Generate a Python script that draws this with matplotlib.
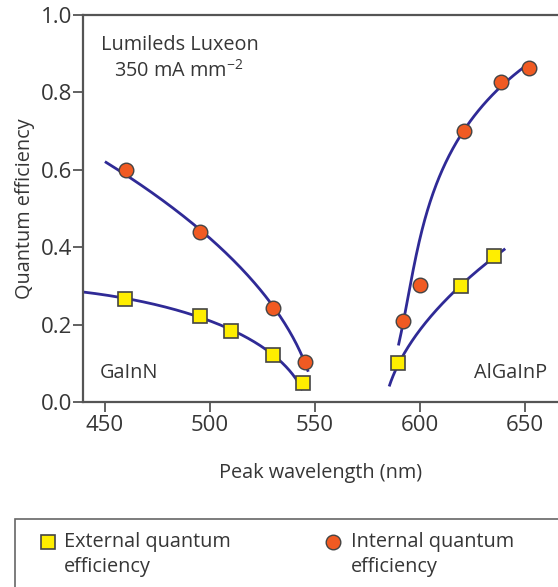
import numpy as np
import matplotlib
matplotlib.use("Agg")
import matplotlib.pyplot as plt
from matplotlib.lines import Line2D
from matplotlib.patches import Rectangle

plt.rcParams['font.family'] = ['Open Sans', 'DejaVu Sans']

# Measured efficiencies (peak wavelength in nm, efficiency as fraction)
gainn_iqe_wl = [460, 495, 530, 545]
gainn_iqe = [0.60, 0.44, 0.243, 0.103]
gainn_eqe_wl = [459.5, 495, 510, 530, 544.5]
gainn_eqe = [0.266, 0.221, 0.183, 0.121, 0.049]

algainp_iqe_wl = [592, 600, 621, 638.5, 652]
algainp_iqe = [0.209, 0.302, 0.70, 0.827, 0.863]
algainp_eqe_wl = [589.5, 619.5, 635]
algainp_eqe = [0.10, 0.30, 0.377]

# Trend-line traces (wavelength, efficiency) used for the guide curves
gainn_iqe_trend_wl = [449.5, 460, 490.5, 495, 530, 546.7]
gainn_iqe_trend = [0.620, 0.590, 0.470, 0.440, 0.250, 0.078]
gainn_eqe_trend_wl = [439.5, 459.5, 495, 510, 530, 544]
gainn_eqe_trend = [0.285, 0.266, 0.222, 0.185, 0.122, 0.031]
algainp_iqe_trend_wl = [590.1, 592, 594.3, 603.2, 621, 638.6, 651.4]
algainp_iqe_trend = [0.145, 0.210, 0.300, 0.470, 0.700, 0.827, 0.866]
algainp_eqe_trend_wl = [585.4, 589.7, 600, 619.5, 635, 641]
algainp_eqe_trend = [0.040, 0.100, 0.186, 0.300, 0.377, 0.395]

x_ticks = [450, 500, 550, 600, 650]
y_ticks = [0.0, 0.2, 0.4, 0.6, 0.8, 1.0]

legend_labels = ['External quantum\nefficiency', 'Internal quantum\nefficiency']

LINE = '#2f2a96'
TEXT = '#363636'
AXIS = '#555555'
SQ_FACE = '#ffee00'
CI_FACE = '#f05a22'
EDGE = '#444444'
FS = 14.3


def smooth_trend(xs, ys, deg=3, n=200):
    """Parametric polynomial fit along the chord length of a trace."""
    xs = np.asarray(xs, float)
    ys = np.asarray(ys, float)
    sx, sy = xs / 210.0, ys / 0.66
    t = np.concatenate([[0], np.cumsum(np.hypot(np.diff(sx), np.diff(sy)))])
    t /= t[-1]
    px = np.polyfit(t, xs, deg)
    py = np.polyfit(t, ys, deg)
    tt = np.linspace(0, 1, n)
    return np.polyval(px, tt), np.polyval(py, tt)


fig = plt.figure(figsize=(5.58, 5.87), dpi=100)
ax = fig.add_axes([0.1487, 0.3152, 0.8513, 0.6593])

for xs, ys in [(gainn_iqe_trend_wl, gainn_iqe_trend),
               (gainn_eqe_trend_wl, gainn_eqe_trend),
               (algainp_iqe_trend_wl, algainp_iqe_trend),
               (algainp_eqe_trend_wl, algainp_eqe_trend)]:
    cx, cy = smooth_trend(xs, ys)
    ax.plot(cx, cy, color=LINE, lw=2.0, solid_capstyle='butt', zorder=2)

sq_kw = dict(marker='s', ms=10, mfc=SQ_FACE, mec=EDGE, mew=1.2, ls='none', zorder=3)
ci_kw = dict(marker='o', ms=10.5, mfc=CI_FACE, mec=EDGE, mew=1.0, ls='none', zorder=3)
ax.plot(gainn_eqe_wl, gainn_eqe, **sq_kw)
ax.plot(algainp_eqe_wl, algainp_eqe, **sq_kw)
ax.plot(gainn_iqe_wl, gainn_iqe, **ci_kw)
ax.plot(algainp_iqe_wl, algainp_iqe, **ci_kw)

ax.set_xlim(439.5, 665.7)
ax.set_ylim(0.0, 1.0)
ax.set_xticks(x_ticks)
ax.set_yticks(y_ticks)
ax.set_yticklabels([f'{v:.1f}' for v in y_ticks])
ax.tick_params(axis='both', direction='out', length=7, width=1.3,
               color=AXIS, labelcolor=TEXT, labelsize=16)
ax.tick_params(axis='y', pad=1)
ax.tick_params(axis='x', pad=2.5)
for side in ('left', 'bottom', 'top'):
    ax.spines[side].set_color(AXIS)
    ax.spines[side].set_linewidth(1.6)
ax.spines['right'].set_visible(False)

ax.set_xlabel('Peak wavelength (nm)', fontsize=FS, color=TEXT, labelpad=19)
ax.set_ylabel('Quantum efficiency', fontsize=FS, color=TEXT, labelpad=4)

ax.text(0.204, 0.922, 'Lumileds Luxeon', transform=ax.transAxes,
        ha='center', va='center', fontsize=FS, color=TEXT)
ax.text(0.202, 0.856, r'350 mA mm$^{\mathregular{-2}}$', transform=ax.transAxes,
        ha='center', va='center', fontsize=FS, color=TEXT)
ax.text(0.036, 0.076, 'GaInN', transform=ax.transAxes,
        ha='left', va='center', fontsize=FS, color=TEXT)
ax.text(0.977, 0.076, 'AlGaInP', transform=ax.transAxes,
        ha='right', va='center', fontsize=FS, color=TEXT)

# Legend panel below the plot
fig.patches.append(Rectangle((15 / 558, -0.05), 1.0, (587 - 519) / 587 + 0.05,
                             transform=fig.transFigure, fill=False,
                             edgecolor='#666666', lw=1.2))
key_y = 1 - 542 / 587
fig.add_artist(Line2D([48 / 558], [key_y], transform=fig.transFigure, marker='s',
                      ms=9.5, mfc=SQ_FACE, mec=EDGE, mew=1.2, ls='none'))
fig.add_artist(Line2D([333 / 558], [key_y], transform=fig.transFigure, marker='o',
                      ms=10.5, mfc=CI_FACE, mec=EDGE, mew=1.0, ls='none'))
fig.text(64 / 558, 1 - 532 / 587, legend_labels[0], ha='left', va='top',
         fontsize=FS, color=TEXT, linespacing=1.32)
fig.text(351 / 558, 1 - 532 / 587, legend_labels[1], ha='left', va='top',
         fontsize=FS, color=TEXT, linespacing=1.32)

fig.savefig('out.png', dpi=100)
